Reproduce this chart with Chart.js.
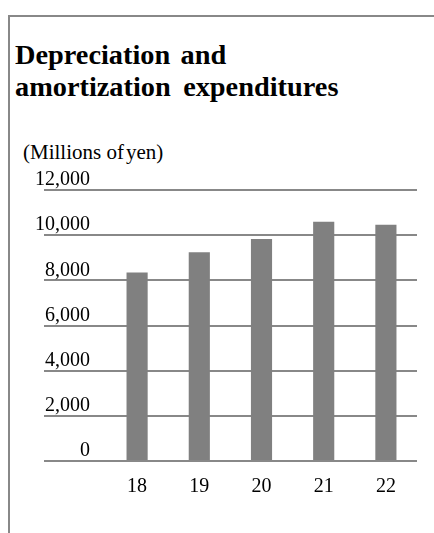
<!DOCTYPE html>
<html>
<head>
<meta charset="utf-8">
<script src="https://cdn.jsdelivr.net/npm/chart.js@4/dist/chart.umd.min.js"></script>
<style>
  html, body { margin: 0; padding: 0; background: #fff; }
  #wrap { position: relative; width: 434px; height: 533px; overflow: hidden; }
  #frame { position: absolute; left: 8px; top: 15px; right: -10px; bottom: -10px;
           border-left: 2px solid #888; border-top: 2px solid #888; }
  #title { position: absolute; left: 15px; top: 39px; margin: 0;
           font: bold 26.6px "Liberation Serif", "Times New Roman", serif;
           line-height: 32.4px; color: #000; white-space: nowrap;
           transform: scaleX(1.065); transform-origin: 0 0; }
  #unit { position: absolute; left: 23px; top: 142px;
          font: 20px "Liberation Serif", "Times New Roman", serif;
          line-height: 20px; color: #000; white-space: nowrap;
          transform: scaleX(1.05); transform-origin: 0 0; }
  canvas { position: absolute; left: 0; top: 0; }
</style>
</head>
<body>
<div id="wrap">
  <div id="frame"></div>
  <div id="title"><div style="word-spacing:3px">Depreciation and</div><div style="word-spacing:5px">amortization expenditures</div></div>
  <div id="unit">(Millions <span style="word-spacing:-3px">of yen)</span></div>
  <canvas id="c" width="434" height="533"></canvas>
</div>
<script>
// Fiscal years and depreciation & amortization (millions of yen)
const years = ['18', '19', '20', '21', '22'];
const expenditures = [8350, 9240, 9830, 10590, 10460];
const yTicks = [0, 2000, 4000, 6000, 8000, 10000, 12000];

const serif = '"Liberation Serif", "Times New Roman", serif';

new Chart(document.getElementById('c'), {
  type: 'bar',
  data: {
    labels: years,
    datasets: [{
      data: expenditures,
      backgroundColor: '#808080',
      borderWidth: 0,
      categoryPercentage: 1,
      barPercentage: 0.34
    }]
  },
  options: {
    responsive: false,
    animation: false,
    devicePixelRatio: 1,
    layout: { padding: { left: 20, right: 17, top: 190, bottom: 32 } },
    plugins: { legend: { display: false }, tooltip: { enabled: false } },
    scales: {
      x: {
        grid: { display: false },
        border: { display: false },
        ticks: { color: '#000', font: { family: serif, size: 20 }, padding: 6, maxRotation: 0 },
        afterFit(scale) { scale.height = 40; scale.paddingLeft = 0; scale.paddingRight = 0; }
      },
      y: {
        min: yTicks[0],
        max: yTicks[yTicks.length - 1],
        afterBuildTicks(scale) { scale.ticks = yTicks.map(v => ({ value: v })); },
        grid: { color: '#888', lineWidth: 2, drawTicks: true, tickLength: 62 },
        border: { display: false },
        ticks: {
          color: '#000',
          font: { family: serif, size: 20 },
          padding: -46,
          labelOffset: -10,
          callback: v => v.toLocaleString('en-US')
        },
        afterFit(scale) { scale.width = 86; scale.paddingTop = 0; scale.paddingBottom = 0; }
      }
    }
  }
});
</script>
</body>
</html>
